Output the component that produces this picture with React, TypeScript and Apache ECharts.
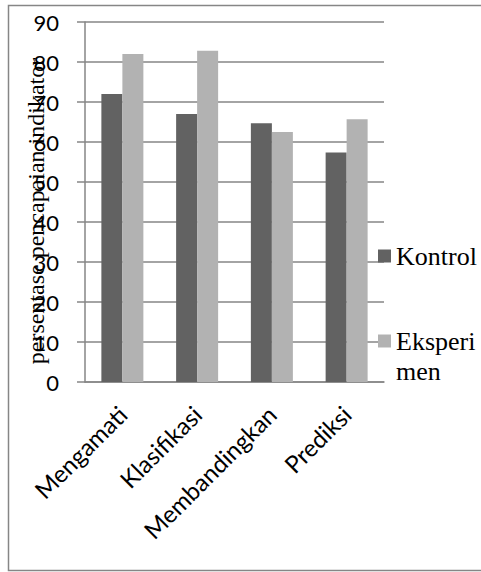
import React, { useEffect, useRef } from "react";
import * as echarts from "echarts";

const categories = ["Mengamati", "Klasifikasi", "Membandingkan", "Prediksi"];
const kontrol = [72, 67, 64.7, 57.4];
const eksperimen = [82, 82.8, 62.5, 65.7];
const seriesNames = ["Kontrol", "Eksperimen"];
const yAxisTitle = "persentase pencapaian indikator";

export default function App() {
  const ref = useRef<HTMLDivElement>(null);
  useEffect(() => {
    if (!ref.current) return;
    const chart = echarts.init(ref.current, undefined, { renderer: "svg" });
    const gridColor = "#868686";
    chart.setOption({
      animation: false,
      backgroundColor: "#ffffff",
      graphic: [
        {
          type: "rect",
          shape: { x: 8.5, y: 5.5, width: 520, height: 565 },
          style: { fill: "none", stroke: gridColor, lineWidth: 1.5 },
          silent: true,
        },
      ],
      grid: {
        left: 85,
        top: 22,
        right: 97,
        bottom: 190,
        containLabel: false,
        outerBoundsMode: "none",
      },
      legend: [
        {
          data: [seriesNames[0]],
          left: 378,
          top: 243,
          padding: 0,
          icon: "rect",
          itemWidth: 13,
          itemHeight: 13,
          selectedMode: false,
          textStyle: { fontFamily: "Liberation Serif", fontSize: 26, color: "#000" },
        },
        {
          data: [seriesNames[1]],
          left: 378,
          top: 296,
          padding: 0,
          icon: "rect",
          itemWidth: 13,
          itemHeight: 13,
          selectedMode: false,
          formatter: () => "\nEksperi\nmen",
          textStyle: {
            fontFamily: "Liberation Serif",
            fontSize: 26,
            lineHeight: 30,
            color: "#000",
          },
        },
      ],
      xAxis: {
        type: "category",
        data: categories,
        axisLine: { lineStyle: { color: gridColor, width: 1.5 } },
        axisTick: { length: 8, lineStyle: { color: gridColor, width: 1.5 } },
        axisLabel: {
          rotate: 45,
          interval: 0,
          margin: 28,
          fontFamily: "Lato",
          fontSize: 24,
          color: "#000",
        },
      },
      yAxis: {
        type: "value",
        min: 0,
        max: 90,
        interval: 10,
        name: yAxisTitle,
        nameLocation: "middle",
        nameGap: 37,
        nameRotate: 90,
        nameMoveOverlap: false,
        nameTextStyle: {
          fontFamily: "Liberation Serif",
          fontSize: 24,
          color: "#000",
          padding: [0, 18, 0, 0],
        },
        axisLine: { show: true, lineStyle: { color: gridColor, width: 1.5 } },
        axisTick: { show: true, length: 8, lineStyle: { color: gridColor, width: 1.5 } },
        splitLine: { lineStyle: { color: gridColor, width: 1.5 } },
        axisLabel: {
          margin: 26,
          fontFamily: "Lato",
          fontSize: 22,
          color: "#000",
        },
      },
      series: [
        {
          name: seriesNames[0],
          type: "bar",
          data: kontrol,
          barWidth: 21,
          barGap: "0%",
          itemStyle: { color: "#626262" },
        },
        {
          name: seriesNames[1],
          type: "bar",
          data: eksperimen,
          barWidth: 21,
          barGap: "0%",
          itemStyle: { color: "#b2b2b2" },
        },
      ],
    });
    return () => chart.dispose();
  }, []);
  return (
    <div
      ref={ref}
      style={{ position: "absolute", left: 0, top: 0, width: 481, height: 572 }}
    />
  );
}
